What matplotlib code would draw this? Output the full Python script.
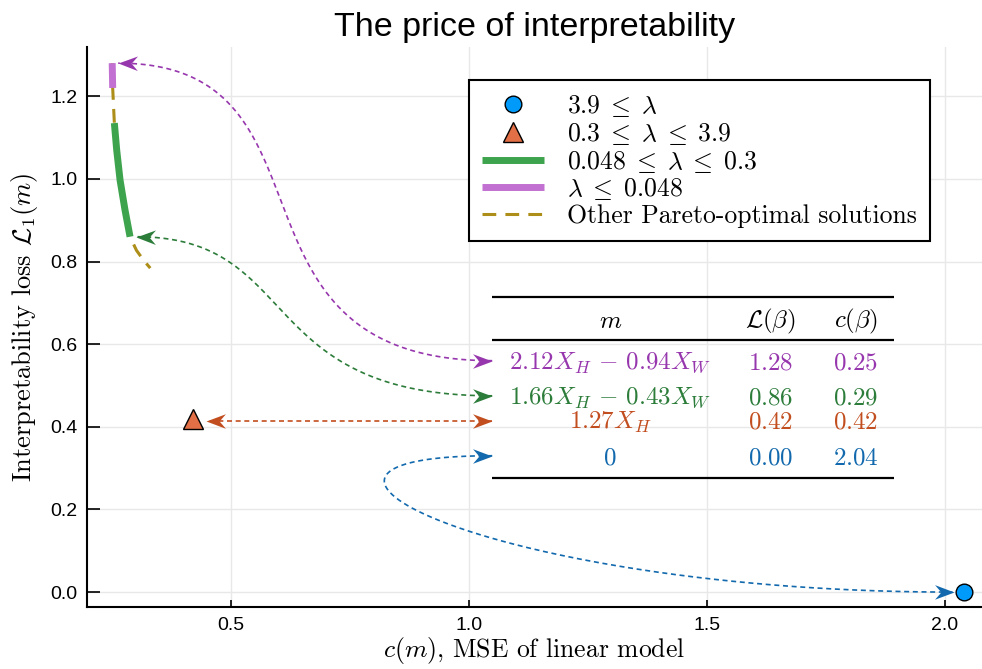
import numpy as np
import matplotlib.pyplot as plt
from matplotlib.markers import MarkerStyle
from matplotlib.path import Path
from matplotlib.transforms import Affine2D

plt.rcParams['mathtext.fontset'] = 'cm'
plt.rcParams['font.family'] = ['Liberation Sans', 'DejaVu Sans']

# Pareto front (MSE vs interpretability loss), top to bottom
pareto_c = [0.250, 0.251, 0.2545, 0.2595, 0.2665, 0.277, 0.2875, 0.301, 0.316, 0.330]
pareto_L = [1.28, 1.22, 1.135, 1.069, 0.997, 0.924, 0.860, 0.827, 0.803, 0.784]
purple_idx = slice(0, 2)   # lambda <= 0.048
green_idx = slice(2, 7)    # 0.048 <= lambda <= 0.3

# selected models for the table
models = [r"$2.12X_H \,-\, 0.94X_W$", r"$1.66X_H \,-\, 0.43X_W$", r"$1.27X_H$", r"$0$"]
model_L = [1.28, 0.86, 0.42, 0.00]
model_c = [0.25, 0.29, 0.42, 2.04]
row_colors = ['#9737ae', '#2c7c3a', '#c24e1f', '#1269ad']

# palette
c_blue = '#009afa'
c_orange = '#e26f46'
c_green = '#3da44d'
c_purple = '#c271d2'
c_gold = '#ad8e18'

fig = plt.figure(figsize=(9.82, 6.69), dpi=100)
ax = fig.add_axes([0.0886, 0.0927, 0.911, 0.837])
ax.set_xlim(0.197, 2.078)
ax.set_ylim(-0.036, 1.319)

ax.grid(True, color='#e8e8e8', lw=1.0, zorder=0)
ax.set_axisbelow(True)
for s in ['top', 'right']:
    ax.spines[s].set_visible(False)
for s in ['left', 'bottom']:
    ax.spines[s].set_linewidth(1.5)
ax.set_xticks([0.5, 1.0, 1.5, 2.0])
ax.set_yticks([0.0, 0.2, 0.4, 0.6, 0.8, 1.0, 1.2])
ax.tick_params(axis='x', direction='in', length=5, width=1.2, labelsize=14, pad=7)
ax.tick_params(axis='y', direction='in', length=9.5, width=1.2, labelsize=14, pad=7)

ax.set_title("The price of interpretability", fontsize=24.5, pad=8)
ax.set_xlabel(r"$c(m)$, MSE of linear model", family='cmr10', fontsize=18.5, labelpad=1)
ax.set_ylabel(r"Interpretability loss $\mathcal{L}_1(m)$", family='cmr10', fontsize=19, labelpad=7)

# front
h_gold, = ax.plot(pareto_c, pareto_L, color=c_gold, lw=2.2, ls=(0, (4.5, 3)), zorder=2,
                  label="Other Pareto-optimal solutions")
h_green, = ax.plot(pareto_c[green_idx], pareto_L[green_idx], color=c_green, lw=5,
                   solid_capstyle='butt', zorder=3, label=r"$0.048 \;\leq\; \lambda \;\leq\; 0.3$")
h_purple, = ax.plot(pareto_c[purple_idx], pareto_L[purple_idx], color=c_purple, lw=5,
                    solid_capstyle='butt', zorder=3, label=r"$\lambda \;\leq\; 0.048$")
h_blue, = ax.plot([model_c[3]], [model_L[3]], 'o', ms=12, color=c_blue, mec='black', mew=1,
                  ls='none', zorder=6, label=r"$3.9 \;\leq\; \lambda$")
h_orange, = ax.plot([model_c[2]], [model_L[2]], '^', ms=14, color=c_orange, mec='black', mew=1,
                    ls='none', zorder=6, label=r"$0.3 \;\leq\; \lambda \;\leq\; 3.9$")

leg = ax.legend(handles=[h_blue, h_orange, h_green, h_purple, h_gold],
                loc='upper right', bbox_to_anchor=(0.942, 0.941),
                prop={'family': 'cmr10', 'size': 18.5}, fancybox=False, framealpha=1,
                edgecolor='black', handlelength=2.4, handletextpad=0.9,
                labelspacing=0.07, borderpad=0.5, borderaxespad=0)
leg.get_frame().set_linewidth(1.5)

# table
tab_left, tab_right = 1.049, 1.893
col_x = [1.297, 1.634, 1.813]
row_y = [0.56, 0.475, 0.415, 0.33]
head_y, top_line, mid_line, bot_line = 0.658, 0.713, 0.609, 0.276
ax.hlines([top_line, mid_line, bot_line], tab_left, tab_right, color='black', lw=1.6, zorder=4)
hdr = [r"$m$", r"$\mathcal{L}(\beta)$", r"$c(\beta)$"]
for x, h in zip(col_x, hdr):
    ax.annotate(h, (x, head_y), xytext=(0, -5.5), textcoords='offset points',
                ha='center', va='baseline', fontsize=18)
for i in range(4):
    cells = [models[i], f"${model_L[i]:.2f}$", f"${model_c[i]:.2f}$"]
    for x, t in zip(col_x, cells):
        ax.annotate(t, (x, row_y[i]), xytext=(0, -6), textcoords='offset points',
                    ha='center', va='baseline', fontsize=18, color=row_colors[i])

# arrows from the table to the models on the front
head_path = Path([(0, 0), (-2, 0.75), (-1.35, 0), (-2, -0.75), (0, 0)],
                 [Path.MOVETO, Path.LINETO, Path.LINETO, Path.LINETO, Path.CLOSEPOLY])


def head(pt, angle, color):
    m = MarkerStyle(head_path, transform=Affine2D().rotate_deg(angle))
    ax.plot([pt[0]], [pt[1]], marker=m, ms=28, color=color, mew=0, ls='none', zorder=5)


def bezier(p0, p1, p2, p3, n=300):
    t = np.linspace(0, 1, n)[:, None]
    return (1 - t)**3 * p0 + 3 * (1 - t)**2 * t * p1 + 3 * (1 - t) * t**2 * p2 + t**3 * p3


px_per_x = ax.transData.transform((1, 0))[0] - ax.transData.transform((0, 0))[0]
gaps = [6, 5, 13, -10]                # pixels between arrow tip and mark
ctrl = [(0.60, 0.488), (0.505, 0.352), (0.0, 0.0), (0.569, -0.972)]
for i in range(4):
    a = np.array([tab_left, row_y[i]])
    tx = model_c[i] + gaps[i] / px_per_x
    ty = row_y[i] if i == 2 else model_L[i]
    t = np.array([tx, ty])
    k1, k2 = ctrl[i]
    p1 = a + [-k1, 0]
    p2 = t + [k2, 0]
    if i == 2:
        p1 = a + (t - a) / 3
        p2 = a + 2 * (t - a) / 3
    pts = bezier(a, p1, p2, t)
    ax.plot(pts[:, 0], pts[:, 1], color=row_colors[i], lw=1.2, ls=(0, (3, 2.2)), zorder=5)
    head(a, 0, row_colors[i])
    d = ax.transData.transform(t) - ax.transData.transform(pts[-4])
    head(t, np.degrees(np.arctan2(d[1], d[0])), row_colors[i])

fig.savefig('out.png', dpi=100)
